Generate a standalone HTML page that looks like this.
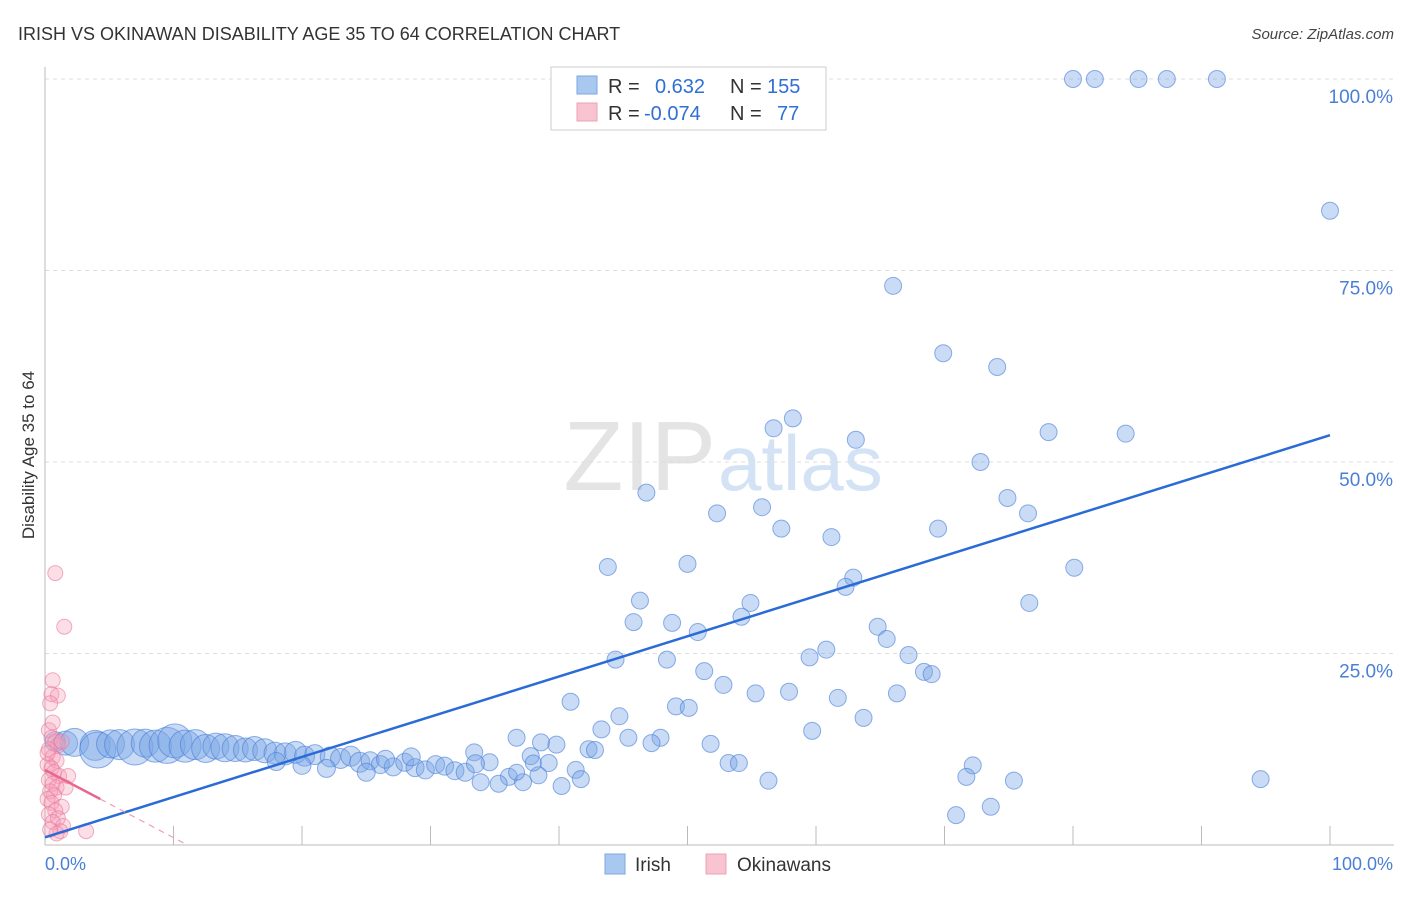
<!DOCTYPE html>
<html><head><meta charset="utf-8"><style>
body{margin:0;background:#fff;font-family:"Liberation Sans",sans-serif;}
svg text{font-family:"Liberation Sans",sans-serif;}
</style></head><body>
<svg id="chart" width="1406" height="892" viewBox="0 0 1406 892" xmlns="http://www.w3.org/2000/svg">
<text x="18" y="40" font-size="18" fill="#333">IRISH VS OKINAWAN DISABILITY AGE 35 TO 64 CORRELATION CHART</text>
<text x="1394" y="39" font-size="15" fill="#444" text-anchor="end" font-style="italic">Source: ZipAtlas.com</text>
<text x="716" y="490" font-size="98" fill="#e4e4e4" text-anchor="end" font-family="Liberation Serif">ZIP</text>
<text x="718" y="490" font-size="78" fill="#d3e2f4">atlas</text>
<g id="grid"></g>
<g id="axes"></g>
<g id="pts"></g>
<g id="lines"></g>
<text transform="translate(34,455) rotate(-90)" font-size="17" fill="#333" text-anchor="middle">Disability Age 35 to 64</text>
<text x="45" y="870" font-size="18" fill="#4a7fd6">0.0%</text>
<text x="1393" y="870" font-size="18" fill="#4a7fd6" text-anchor="end">100.0%</text>
<g>
<rect x="551" y="67" width="275" height="63" fill="#fff" stroke="#ccc"/>
<rect x="577" y="76" width="20" height="18" fill="#a9c8f0" stroke="#7aa6e0"/>
<rect x="577" y="103" width="20" height="18" fill="#f8c4d2" stroke="#eea0b6"/>
<text x="608" y="93" font-size="20" fill="#333">R = <tspan fill="#2f6fd6" x="655">0.632</tspan><tspan x="730">N =</tspan><tspan fill="#2f6fd6" x="767">155</tspan></text>
<text x="608" y="120" font-size="20" fill="#333">R = <tspan fill="#2f6fd6" x="644">-0.074</tspan><tspan x="730">N =</tspan><tspan fill="#2f6fd6" x="777">77</tspan></text>
</g>
<g>
<rect x="605" y="854" width="20" height="20" fill="#a9c8f0" stroke="#7aa6e0"/>
<text x="635" y="871" font-size="19" fill="#333">Irish</text>
<rect x="706" y="854" width="20" height="20" fill="#f8c4d2" stroke="#eea0b6"/>
<text x="737" y="871" font-size="19" fill="#333">Okinawans</text>
</g>
</svg>
<script>
const yTicks=[25,50,75,100];
const xTicks=[0,10,20,30,40,50,60,70,80,90,100];
const irishX=[80.0,81.7,85.1,87.3,91.2,100,66.0,69.9,74.1,58.2,56.7,63.1,78.1,84.1,72.8,46.8,52.3,55.8,57.3,61.2,69.5,74.9,76.5,80.1,76.6,43.8,50.0,46.3,45.8,48.8,54.9,54.2,62.9,62.3,50.8,44.4,48.4,64.8,65.5,60.8,59.5,67.2,68.4,69.0,51.3,52.8,55.3,57.9,61.7,66.3,40.9,49.1,50.1,44.7,63.7,59.7,43.3,36.7,45.4,47.9,47.2,38.6,39.8,51.8,42.3,42.8,33.4,37.8,34.6,39.2,53.2,54.0,41.3,38.4,36.1,41.7,40.2,35.3,37.2,33.9,72.2,71.7,75.4,56.3,94.6,73.6,70.9,
0.8,1.6,2.3,3.9,4.1,5.1,5.8,7.0,7.8,8.6,9.5,10.1,10.9,11.7,12.5,13.3,14.0,14.8,15.6,16.3,17.1,17.9,18.7,19.5,20.2,21.0,22.2,23.0,23.8,24.5,25.3,26.1,27.1,28.0,28.8,29.6,30.4,31.1,31.9,32.7,33.5,25.0,21.9,20.0,18.0,36.7,38.0,28.5,26.5];
const irishY=[100,100,100,100,100,82.8,73.0,64.2,62.4,55.7,54.4,52.9,53.9,53.7,50.0,46.0,43.3,44.1,41.3,40.2,41.3,45.3,43.3,36.2,31.6,36.3,36.7,31.9,29.1,29.0,31.6,29.8,34.9,33.7,27.8,24.2,24.2,28.5,26.9,25.5,24.5,24.8,22.6,22.3,22.7,20.9,19.8,20.0,19.2,19.8,18.7,18.1,17.9,16.8,16.6,14.9,15.1,14.0,14.0,14.0,13.3,13.4,13.1,13.2,12.5,12.4,12.1,11.6,10.8,10.7,10.7,10.7,9.8,9.1,8.9,8.6,7.7,8.0,8.2,8.2,10.4,8.9,8.4,8.4,8.6,5.0,3.9,
13.5,13.3,13.4,13.0,12.4,13.2,13.1,12.8,13.3,12.9,13.0,13.6,12.9,13.1,12.6,12.9,12.7,12.6,12.4,12.6,12.3,12.0,11.9,12.1,11.6,11.8,11.5,11.3,11.6,10.8,11.0,10.5,10.2,10.8,10.1,9.8,10.5,10.3,9.7,9.5,10.6,9.5,10.0,10.4,10.9,9.5,10.7,11.5,11.2];
const irishSize=[10,12,14,15,18,14,15,18,14,16,18,17,16,15,14,13,14,13,12,12,12,11,11,11,10,10,10,10,10,10,9,9,9,9,9,9,9,9,9,9,9,9,9,9,9,8,8,9,9];
const okiX=[0.8,1.5,0.6,0.5,1.0,0.4,0.3,0.5,0.8,1.0,0.3,0.6,0.9,0.2,0.5,0.7,1.1,0.3,0.6,0.9,1.6,0.4,0.7,0.2,0.5,1.3,0.8,0.3,1.0,0.6,1.4,3.2,1.2,0.9,0.4,1.8,0.2,1.3,0.6];
const okiY=[35.5,28.5,21.5,19.7,19.5,18.5,15,14,13.5,13,12.5,11.5,11,10.5,10,9.5,9,8.5,8,7.5,7.5,7,6.5,6,5.5,5,4.5,4,3.5,3,2.5,1.8,1.8,1.5,2,9,12,13.5,16];
const irishTrend=[1.0,53.5];
const okiTrend=[9.8,6.0];
const NS="http://www.w3.org/2000/svg";
const X=v=>45+v*12.85, Y=v=>845-v*7.66;
function mk(t,a,p){const e=document.createElementNS(NS,t);for(const k in a)e.setAttribute(k,a[k]);p.appendChild(e);return e;}
const grid=document.getElementById('grid'),axes=document.getElementById('axes'),pts=document.getElementById('pts'),lines=document.getElementById('lines');
yTicks.forEach(t=>{
 const l=mk('line',{x1:45,x2:1394,y1:Y(t),y2:Y(t),stroke:'#ddd','stroke-dasharray':'4,4'},grid);
 
 
 const tx=mk('text',{x:1393,y:Y(t)+24,'font-size':19,fill:'#4a7fd6','text-anchor':'end'},grid);
 tx.textContent=t.toFixed(1)+'%';
 
 
});
const ax=mk('line',{x1:45,x2:45,y1:67,y2:845,stroke:'#bbb'},axes);


const bx=mk('line',{x1:45,x2:1394,y1:845,y2:845,stroke:'#bbb'},axes);


xTicks.forEach(t=>{
 const l=mk('line',{x1:X(t),x2:X(t),y1:826,y2:845,stroke:'#bbb'},axes);
 
 
});
irishX.forEach((v,i)=>{
 const r=i>=87?irishSize[i-87]:8.5;
 const c=mk('circle',{cx:X(v),cy:Y(irishY[i]),r:r,fill:'rgba(120,165,230,0.4)',stroke:'rgba(70,125,215,0.6)','stroke-width':1},pts);
 
 
});
okiX.forEach((v,i)=>{
 const c=mk('circle',{cx:X(v),cy:Y(okiY[i]),r:7.5,fill:'rgba(245,160,185,0.35)',stroke:'rgba(235,120,155,0.6)','stroke-width':1},pts);
 
 
});
const tl=mk('line',{x1:X(0),y1:Y(irishTrend[0]),x2:X(100),y2:Y(irishTrend[1]),stroke:'#2a6bd6','stroke-width':2.5},lines);


const slope=(okiTrend[1]-okiTrend[0])/4.3;
const ps=mk('line',{x1:X(0),y1:Y(okiTrend[0]),x2:X(4.3),y2:Y(okiTrend[1]),stroke:'#e8678f','stroke-width':2.5},lines);


const xe=-okiTrend[0]/slope;
const pd=mk('line',{x1:X(4.3),y1:Y(okiTrend[1]),x2:X(xe),y2:Y(0),stroke:'#eea0b6','stroke-width':1.2,'stroke-dasharray':'6,5'},lines);


</script>
</body></html>
